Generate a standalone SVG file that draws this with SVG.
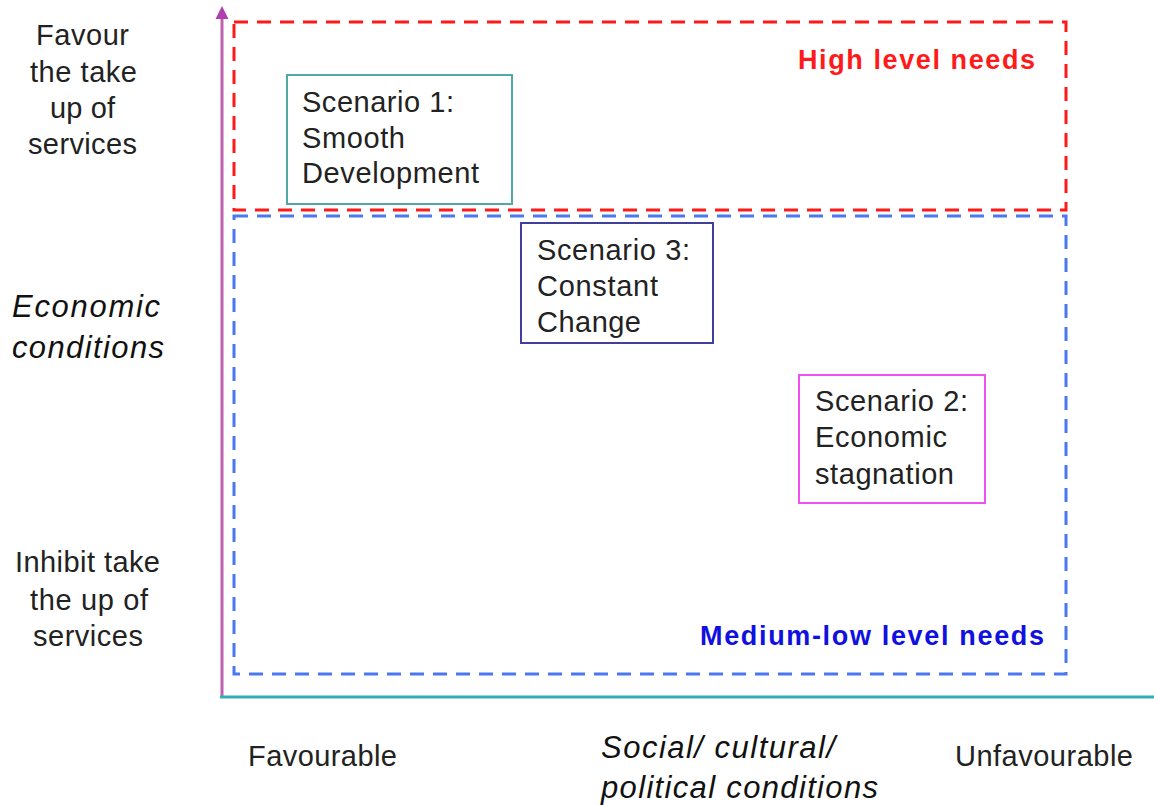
<svg xmlns="http://www.w3.org/2000/svg" width="1154" height="805" viewBox="0 0 1154 805">
  <style>
    .t { font-family: "Liberation Sans", Arial, sans-serif; font-size: 29px; fill: #222; }
    .it { font-style: italic; font-size: 31px; fill: #111; }
    .lbl { font-family: "Liberation Sans", Arial, sans-serif; font-size: 27px; font-weight: bold; }
    .zone { fill: none; stroke-width: 3; stroke-dasharray: 14 9; }
    .box { fill: #fff; stroke-width: 2; }
  </style>
  <rect width="1154" height="805" fill="#fff"/>

  <!-- axes -->
  <g id="connectors">
    <line x1="222" y1="697" x2="222" y2="16" stroke="#c060b0" stroke-width="3"/>
    <path d="M215.5,19 L222,6 L228.5,19 Z" fill="#b040b0"/>
    <line x1="220" y1="697" x2="1154" y2="697" stroke="#30b0b0" stroke-width="3"/>
  </g>

  <!-- needs zones -->
  <g id="zone-high">
    <rect class="zone" x="234" y="22" width="832" height="188" stroke="#ff1a1a"/>
    <text class="lbl" x="798" y="69" fill="#ff1a1a" textLength="237" lengthAdjust="spacing">High level needs</text>
  </g>
  <g id="zone-medium">
    <rect class="zone" x="234" y="216" width="832" height="458" stroke="#4a78f0"/>
    <text class="lbl" x="700" y="645" fill="#1010e0" textLength="344" lengthAdjust="spacing">Medium-low level needs</text>
  </g>

  <!-- scenarios -->
  <g id="scenario1">
    <rect class="box" x="287" y="75" width="225" height="129" stroke="#50a8a8"/>
    <text class="t" x="302" y="112" textLength="152">Scenario 1:</text>
    <text class="t" x="302" y="148" textLength="103">Smooth</text>
    <text class="t" x="302" y="183" textLength="177">Development</text>
  </g>
  <g id="scenario3">
    <rect class="box" x="521" y="223" width="192" height="120" stroke="#40409a"/>
    <text class="t" x="537" y="260" textLength="153">Scenario 3:</text>
    <text class="t" x="537" y="296" textLength="121">Constant</text>
    <text class="t" x="537" y="332" textLength="104">Change</text>
  </g>
  <g id="scenario2">
    <rect class="box" x="799" y="375" width="186" height="128" stroke="#f050f0"/>
    <text class="t" x="815" y="411" textLength="153">Scenario 2:</text>
    <text class="t" x="815" y="447" textLength="132">Economic</text>
    <text class="t" x="815" y="484" textLength="139">stagnation</text>
  </g>

  <!-- vertical axis labels -->
  <g id="y-labels">
    <text class="t" x="36" y="45" textLength="93">Favour</text>
    <text class="t" x="30" y="82" textLength="107">the take</text>
    <text class="t" x="50" y="118" textLength="65">up of</text>
    <text class="t" x="28" y="154" textLength="109">services</text>
    <text class="t it" x="12" y="317" textLength="148">Economic</text>
    <text class="t it" x="12" y="358" textLength="152">conditions</text>
    <text class="t" x="15" y="572" textLength="145">Inhibit take</text>
    <text class="t" x="30" y="610" textLength="118">the up of</text>
    <text class="t" x="33" y="646" textLength="110">services</text>
  </g>

  <!-- horizontal axis labels -->
  <g id="x-labels">
    <text class="t" x="248" y="766" textLength="149">Favourable</text>
    <text class="t it" x="601" y="758" textLength="234">Social/ cultural/</text>
    <text class="t it" x="601" y="798" textLength="277">political conditions</text>
    <text class="t" x="955" y="766" textLength="178">Unfavourable</text>
  </g>
</svg>
